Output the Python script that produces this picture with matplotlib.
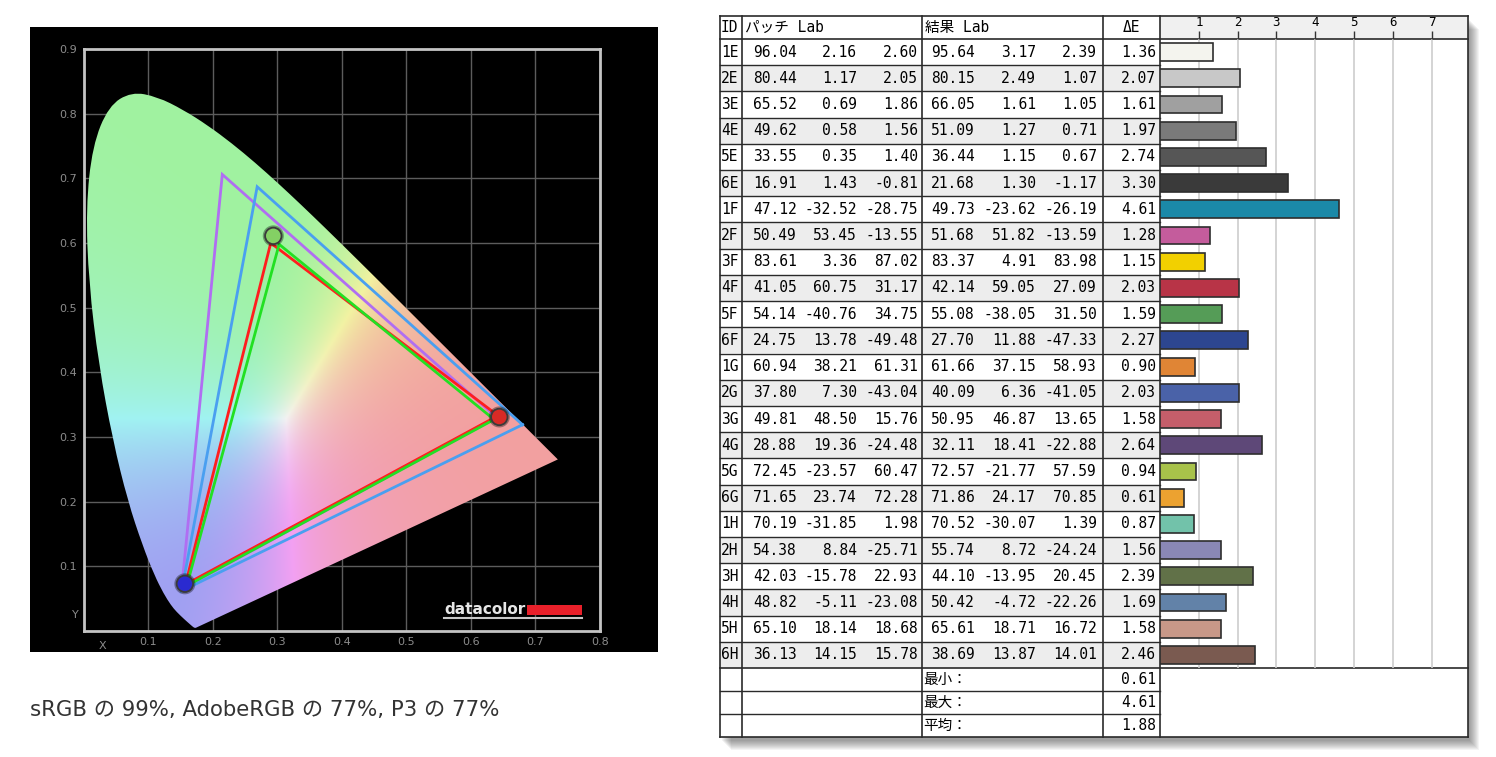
import numpy as np
import matplotlib
matplotlib.use("Agg")
import matplotlib.pyplot as plt
from matplotlib.patches import Rectangle, PathPatch
from matplotlib.path import Path

# ---------------- data ----------------
# CIE 1931 spectral locus (x, y)
locus_x = [0.1741, 0.1733, 0.1714, 0.1689, 0.1644, 0.1566, 0.1440, 0.1355, 0.1241, 0.1096,
           0.0913, 0.0687, 0.0454, 0.0235, 0.0082, 0.0039, 0.0139, 0.0389, 0.0743, 0.1142,
           0.1547, 0.1929, 0.2296, 0.2658, 0.3016, 0.3373, 0.3731, 0.4087, 0.4441, 0.4788,
           0.5125, 0.5448, 0.5752, 0.6029, 0.6270, 0.6658, 0.6915, 0.7079, 0.7190, 0.7260, 0.7347]
locus_y = [0.0050, 0.0048, 0.0051, 0.0069, 0.0109, 0.0177, 0.0297, 0.0399, 0.0578, 0.0868,
           0.1327, 0.2007, 0.2950, 0.4127, 0.5384, 0.6548, 0.7502, 0.8120, 0.8338, 0.8262,
           0.8059, 0.7816, 0.7543, 0.7243, 0.6923, 0.6589, 0.6245, 0.5896, 0.5547, 0.5202,
           0.4866, 0.4544, 0.4242, 0.3965, 0.3725, 0.3340, 0.3083, 0.2920, 0.2809, 0.2740, 0.2653]

adobe_x = [0.640, 0.215, 0.152]
adobe_y = [0.330, 0.706, 0.065]
p3_x = [0.680, 0.269, 0.152]
p3_y = [0.319, 0.687, 0.062]
srgb_x = [0.642, 0.290, 0.158]
srgb_y = [0.333, 0.600, 0.072]
meas_x = [0.636, 0.303, 0.160]
meas_y = [0.327, 0.598, 0.070]
ball_x = [0.644, 0.294, 0.157]
ball_y = [0.331, 0.611, 0.073]
ball_colors = ["#d82a26", "#84d064", "#2a2ad0"]

caption = "sRGB の 99%, AdobeRGB の 77%, P3 の 77%"

ids = ["1E", "2E", "3E", "4E", "5E", "6E", "1F", "2F", "3F", "4F", "5F", "6F",
       "1G", "2G", "3G", "4G", "5G", "6G", "1H", "2H", "3H", "4H", "5H", "6H"]
patch_L = [96.04, 80.44, 65.52, 49.62, 33.55, 16.91, 47.12, 50.49, 83.61, 41.05, 54.14, 24.75,
           60.94, 37.80, 49.81, 28.88, 72.45, 71.65, 70.19, 54.38, 42.03, 48.82, 65.10, 36.13]
patch_a = [2.16, 1.17, 0.69, 0.58, 0.35, 1.43, -32.52, 53.45, 3.36, 60.75, -40.76, 13.78,
           38.21, 7.30, 48.50, 19.36, -23.57, 23.74, -31.85, 8.84, -15.78, -5.11, 18.14, 14.15]
patch_b = [2.60, 2.05, 1.86, 1.56, 1.40, -0.81, -28.75, -13.55, 87.02, 31.17, 34.75, -49.48,
           61.31, -43.04, 15.76, -24.48, 60.47, 72.28, 1.98, -25.71, 22.93, -23.08, 18.68, 15.78]
res_L = [95.64, 80.15, 66.05, 51.09, 36.44, 21.68, 49.73, 51.68, 83.37, 42.14, 55.08, 27.70,
         61.66, 40.09, 50.95, 32.11, 72.57, 71.86, 70.52, 55.74, 44.10, 50.42, 65.61, 38.69]
res_a = [3.17, 2.49, 1.61, 1.27, 1.15, 1.30, -23.62, 51.82, 4.91, 59.05, -38.05, 11.88,
         37.15, 6.36, 46.87, 18.41, -21.77, 24.17, -30.07, 8.72, -13.95, -4.72, 18.71, 13.87]
res_b = [2.39, 1.07, 1.05, 0.71, 0.67, -1.17, -26.19, -13.59, 83.98, 27.09, 31.50, -47.33,
         58.93, -41.05, 13.65, -22.88, 57.59, 70.85, 1.39, -24.24, 20.45, -22.26, 16.72, 14.01]
delta_e = [1.36, 2.07, 1.61, 1.97, 2.74, 3.30, 4.61, 1.28, 1.15, 2.03, 1.59, 2.27,
           0.90, 2.03, 1.58, 2.64, 0.94, 0.61, 0.87, 1.56, 2.39, 1.69, 1.58, 2.46]
bar_colors = ["#f4f4ee", "#c8c8c8", "#a0a0a0", "#7a7a7a", "#565656", "#3a3a3a",
              "#1b89a8", "#c45c9c", "#f2d000", "#b83447", "#559c57", "#2d4690",
              "#e08535", "#4a62a8", "#c55e6a", "#5e4878", "#a8c24a", "#eca230",
              "#72c2aa", "#8a88b6", "#617148", "#6282a8", "#c89888", "#7a5a50"]
bar_ticks = [1, 2, 3, 4, 5, 6, 7]
summary_labels = ["最小：", "最大：", "平均："]

# ---------------- figure ----------------
W, H = 1496, 757
fig = plt.figure(figsize=(W / 100, H / 100), dpi=100)
fig.patch.set_facecolor("white")

lay = fig.add_axes([0, 0, 1, 1], zorder=0)
lay.set_xlim(0, W)
lay.set_ylim(H, 0)
lay.axis("off")

# black panel
lay.add_patch(Rectangle((30, 27), 628, 625, facecolor="black", edgecolor="none"))

# chromaticity axes
ax = fig.add_axes([83.5 / W, 1 - 631 / H, 516.5 / W, 582 / H], zorder=2)
ax.set_facecolor("black")
ax.set_xlim(0, 0.8)
ax.set_ylim(0, 0.9)
xt = np.round(np.arange(0.1, 0.81, 0.1), 1)
yt = np.round(np.arange(0.1, 0.91, 0.1), 1)
ax.set_xticks(xt)
ax.set_xticklabels([f"{v:.1f}" for v in xt])
ax.set_yticks(yt)
ax.set_yticklabels([f"{v:.1f}" for v in yt])
ax.tick_params(length=0, labelsize=8, labelcolor="#8c8c8c", pad=4.5)
ax.grid(True, color="#5c5c5c", lw=1.0, zorder=0)
ax.set_axisbelow(True)
for s in ax.spines.values():
    s.set_color("#c4c4c4")
    s.set_linewidth(2)
ax.text(0.03, -0.015, "X", color="#8c8c8c", fontsize=8, ha="center", va="top")
ax.text(-0.008, 0.025, "Y", color="#8c8c8c", fontsize=8, ha="right", va="center")

# colour fill of the locus
gx = np.linspace(0.0, 0.8, 640)
gy = np.linspace(0.002, 0.9, 720)
XX, YY = np.meshgrid(gx, gy)
Xc = XX / YY
Zc = (1 - XX - YY) / YY
M = np.array([[3.2406, -1.5372, -0.4986], [-0.9689, 1.8758, 0.0415], [0.0557, -0.2040, 1.0570]])
rgb = np.stack([M[i, 0] * Xc + M[i, 1] + M[i, 2] * Zc for i in range(3)], axis=-1)
rgb = np.clip(rgb, 0, None)
rgb = rgb / np.maximum(rgb.max(axis=-1, keepdims=True), 1e-9)
rgb = rgb ** 1.4
img = 0.63 + 0.32 * rgb

# smooth outline of the locus (quadratic Bezier through midpoints), straight purple line
pts = np.column_stack([locus_x, locus_y])
verts = [pts[0], (pts[0] + pts[1]) / 2]
codes = [Path.MOVETO, Path.LINETO]
for i in range(1, len(pts) - 1):
    verts += [pts[i], (pts[i] + pts[i + 1]) / 2 if i < len(pts) - 2 else pts[i + 1]]
    codes += [Path.CURVE3, Path.CURVE3]
verts.append(pts[0])
codes.append(Path.CLOSEPOLY)
locus_path = Path(np.array(verts), codes)
patch = PathPatch(locus_path, facecolor="none", edgecolor="none", transform=ax.transData)
ax.add_patch(patch)
im = ax.imshow(img, extent=[0, 0.8, 0.002, 0.9], origin="lower", aspect="auto",
               interpolation="bilinear", zorder=1)
im.set_clip_path(patch)

def tri(xs, ys, color, lw=2.0):
    ax.plot(list(xs) + [xs[0]], list(ys) + [ys[0]], color=color, lw=lw,
            solid_joinstyle="miter", zorder=3)

tri(adobe_x, adobe_y, "#b06ef2")
tri(p3_x, p3_y, "#4a9ff0")
tri(srgb_x, srgb_y, "#ff1e1e")
tri(meas_x, meas_y, "#22e022")
ax.scatter(ball_x, ball_y, s=230, c="black", alpha=0.35, edgecolors="none", zorder=4)
ax.scatter(ball_x, ball_y, s=140, c=ball_colors, edgecolors="#3a3a3a", linewidths=1.3,
           zorder=5)

# ---------------- table ----------------
TL, TR, TT, TB = 720, 1468, 16, 737
HB = 39          # header bottom
DB = 668         # data bottom
rh = (DB - HB) / len(ids)
xc = [720, 742, 922, 1103, 1160]

# drop shadow
for k in range(1, 11):
    lay.add_patch(Rectangle((TL + 1 + k, TT + 3 + k), TR - TL, TB - TT,
                            facecolor="black", alpha=0.045, edgecolor="none"))
lay.add_patch(Rectangle((TL, TT), TR - TL, TB - TT, facecolor="white", edgecolor="none"))
lay.add_patch(Rectangle((1160, TT), TR - 1160, HB - TT, facecolor="#f0f0f0", edgecolor="none"))
for i in range(len(ids)):
    if i % 2 == 1:
        lay.add_patch(Rectangle((TL, HB + rh * i), 1160 - TL, rh,
                                facecolor="#ededed", edgecolor="none"))

line_c = "#2a2a2a"
for i in range(1, len(ids)):
    y = HB + rh * i
    lay.plot([TL, 1160], [y, y], color=line_c, lw=1.0)
for y in [TT, HB, DB, TB]:
    lay.plot([TL, TR], [y, y], color=line_c, lw=1.2)
for y in [691, 714]:
    lay.plot([TL, 1160], [y, y], color=line_c, lw=1.0)
for x in xc + [TR]:
    lay.plot([x, x], [TT, TB], color=line_c, lw=1.2)

tf = ["DejaVu Sans Mono", "Noto Sans CJK JP"]
fs = 10.5
hy = (TT + HB) / 2
lay.text(721, hy, "ID", family=tf, fontsize=fs, ha="left", va="center")
lay.text(745, hy, "パッチ Lab", family=tf, fontsize=fs, ha="left", va="center")
lay.text(925, hy, "結果 Lab", family=tf, fontsize=fs, ha="left", va="center")
lay.text(1131, hy, "ΔE", family=tf, fontsize=fs, ha="center", va="center")

cols = [(patch_L, 797), (patch_a, 857), (patch_b, 918),
        (res_L, 975), (res_a, 1036), (res_b, 1097), (delta_e, 1156)]
for i, rid in enumerate(ids):
    y = HB + rh * (i + 0.5)
    lay.text(721, y, rid, family=tf, fontsize=fs, ha="left", va="center")
    for vals, xr in cols:
        lay.text(xr, y, f"{vals[i]:.2f}", family=tf, fontsize=fs, ha="right", va="center")

summary_vals = [min(delta_e), max(delta_e), sum(delta_e) / len(delta_e)]
sy = [DB, 691, 714, TB]
for k, (lab, v) in enumerate(zip(summary_labels, summary_vals)):
    y = (sy[k] + sy[k + 1]) / 2
    lay.text(923, y, lab, family=tf, fontsize=fs, ha="left", va="center")
    lay.text(1156, y, f"{v:.2f}", family=tf, fontsize=fs, ha="right", va="center")

# bar axes
axb = fig.add_axes([1160 / W, 1 - DB / H, (TR - 1160) / W, (DB - HB) / H], zorder=3)
axb.set_facecolor("none")
n = len(ids)
axb.barh(np.arange(n), delta_e, height=0.68, color=bar_colors, edgecolor="#2e2e2e",
         linewidth=1.2, zorder=3)
axb.set_xlim(0, (TR - 1160) / 38.8)
axb.set_ylim(n - 0.5, -0.5)
axb.set_xticks(bar_ticks)
axb.set_xticklabels([str(t) for t in bar_ticks])
axb.xaxis.tick_top()
axb.tick_params(axis="x", length=6, width=1, color="#333333", labelsize=9, pad=1)
for lbl in axb.get_xticklabels():
    lbl.set_family(tf)
axb.set_yticks([])
axb.grid(axis="x", color="#cdcdcd", lw=1.2, zorder=0)
axb.set_axisbelow(True)
for s in axb.spines.values():
    s.set_visible(False)

# overlay: logo and caption
top = fig.add_axes([0, 0, 1, 1], zorder=10)
top.set_xlim(0, W)
top.set_ylim(H, 0)
top.axis("off")
top.set_facecolor("none")
top.text(444, 609, "datacolor", color="#e6e6e6", fontsize=11, fontweight="bold",
         ha="left", va="center", family="DejaVu Sans")
top.add_patch(Rectangle((527, 605), 55, 10, facecolor="#e8202a", edgecolor="none"))
top.plot([444, 582], [617.5, 617.5], color="#c8c8c8", lw=1.5)

fig.text(30 / W, 1 - 710 / H, caption, family=["DejaVu Sans", "Noto Sans CJK JP"],
         fontsize=15.3, color="#333333", ha="left", va="center")

fig.savefig("out.png", dpi=100, facecolor="white")
